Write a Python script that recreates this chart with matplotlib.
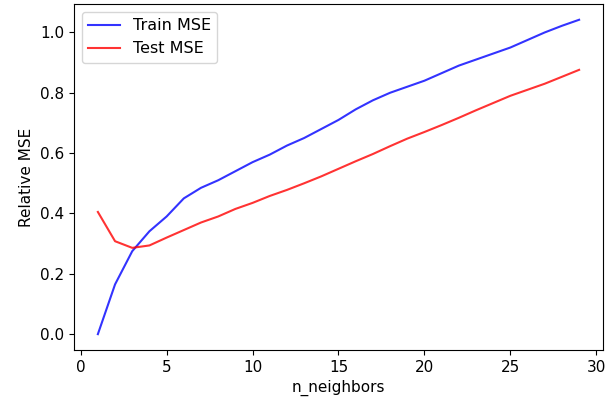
import matplotlib
matplotlib.use("Agg")
import matplotlib.pyplot as plt
import numpy as np

n_neighbors = np.arange(1, 30)
train_mse = [0.0, 0.165, 0.275, 0.341, 0.39, 0.45, 0.485, 0.51, 0.54, 0.57,
             0.595, 0.625, 0.65, 0.68, 0.71, 0.745, 0.775, 0.80, 0.82, 0.84,
             0.865, 0.89, 0.91, 0.93, 0.95, 0.975, 1.0, 1.022, 1.042]
test_mse = [0.405, 0.308, 0.286, 0.294, 0.32, 0.345, 0.37, 0.39, 0.415, 0.435,
            0.458, 0.478, 0.50, 0.523, 0.548, 0.573, 0.597, 0.623, 0.648, 0.67,
            0.693, 0.717, 0.742, 0.766, 0.79, 0.81, 0.83, 0.853, 0.876]

plt.rcParams['font.size'] = 11

fig = plt.figure(figsize=(6.05, 4.04), dpi=100)
ax = fig.add_axes([0.122, 0.134, 0.875, 0.856])
ax.plot(n_neighbors, train_mse, 'b', alpha=0.8, label='Train MSE')
ax.plot(n_neighbors, test_mse, 'r', alpha=0.8, label='Test MSE')
ax.set_xlabel('n_neighbors')
ax.set_ylabel('Relative MSE')
ax.legend(loc='upper left', fontsize=11.5)
fig.savefig('out.png', dpi=100)
